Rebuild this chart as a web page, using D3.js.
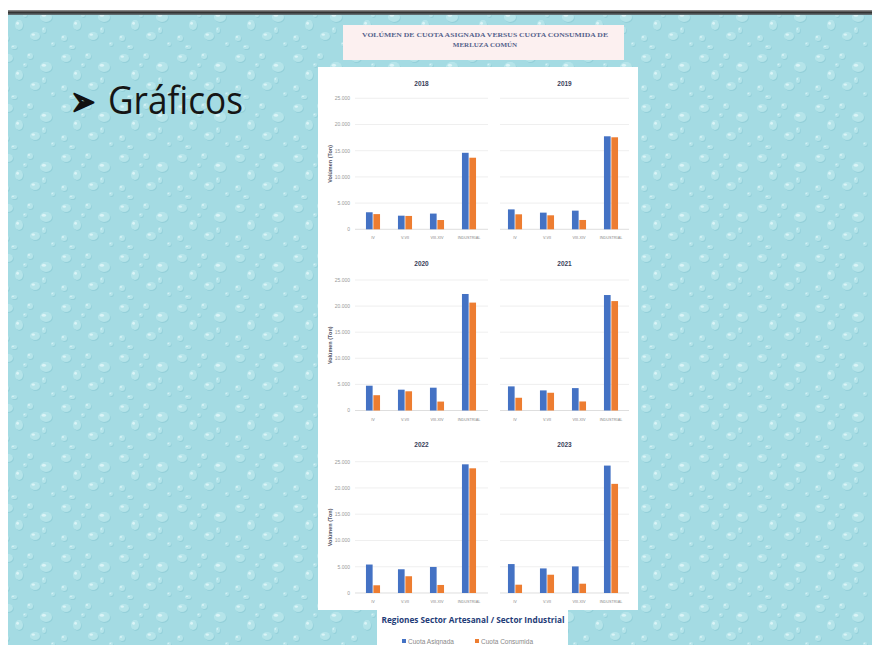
<!DOCTYPE html>
<html><head><meta charset="utf-8">
<script src="https://cdn.jsdelivr.net/npm/d3@7"></script>
<style>html,body{margin:0;padding:0;background:#fff;overflow:hidden}</style>
</head><body>
<svg id="c" width="872" height="645"></svg>
<script>
const years = ["2018","2019","2020","2021","2022","2023"];
const categories = ["IV","V-VII","VIII-XIV","INDUSTRIAL"];
const seriesNames = ["Cuota Asignada","Cuota Consumida"];
const asignada = [
  [3250, 2600, 3000, 14600],
  [3800, 3180, 3560, 17750],
  [4750, 3990, 4370, 22320],
  [4620, 3850, 4290, 22120],
  [5420, 4520, 4960, 24500],
  [5510, 4680, 5060, 24260]
];
const consumida = [
  [2900, 2550, 1770, 13660],
  [2860, 2670, 1780, 17560],
  [2930, 3680, 1710, 20670],
  [2440, 3400, 1730, 20960],
  [1470, 3190, 1530, 23740],
  [1580, 3480, 1770, 20780]
];
const yTicks = [0, 5000, 10000, 15000, 20000, 25000];
const yTickLabels = ["0","5.000","10.000","15.000","20.000","25.000"];
const colors = ["#4472C4","#ED7D31"];

const svg = d3.select("#c");
const defs = svg.append("defs");
const pat = defs.append("pattern").attr("id","drops").attr("patternUnits","userSpaceOnUse")
  .attr("width",58).attr("height",50);
pat.append("rect").attr("width",58).attr("height",50).attr("fill","#a4dbe3");
const dropSpecs = [[8,8,5,4],[30,6,3,3],[46,17,6,5],[19,25,4,5],[6,38,3,3],[35,36,5,4],[53,44,2,2],[25,15,2,2],[44,30,2,3],[14,47,3,2]];
dropSpecs.forEach(([x,y,rx,ry])=>{
  pat.append("ellipse").attr("cx",x+0.8).attr("cy",y+1).attr("rx",rx).attr("ry",ry).attr("fill","#86c6d1").attr("opacity",0.55);
  pat.append("ellipse").attr("cx",x).attr("cy",y).attr("rx",rx).attr("ry",ry).attr("fill","#bde8ee").attr("opacity",0.8);
  pat.append("ellipse").attr("cx",x-rx*0.35).attr("cy",y-ry*0.35).attr("rx",rx*0.35).attr("ry",ry*0.3).attr("fill","#e4f7fa").attr("opacity",0.8);
});
const grad = defs.append("linearGradient").attr("id","topbar").attr("x1",0).attr("y1",0).attr("x2",0).attr("y2",1);
grad.append("stop").attr("offset","0").attr("stop-color","#9a9a9a");
grad.append("stop").attr("offset","0.5").attr("stop-color","#333");
grad.append("stop").attr("offset","1").attr("stop-color","#6b7b80");

svg.append("rect").attr("x",8).attr("y",14).attr("width",864).attr("height",631).attr("fill","url(#drops)");
svg.append("rect").attr("x",8).attr("y",10).attr("width",864).attr("height",5).attr("fill","url(#topbar)");

// bullet + heading
svg.append("text").attr("x",71).attr("y",115).attr("font-family","DejaVu Sans").attr("font-weight","bold").attr("font-size",40)
  .attr("fill","#111").attr("stroke","#111").attr("stroke-width",2.2).attr("stroke-linejoin","round")
  .attr("textLength",24).attr("lengthAdjust","spacingAndGlyphs").text("➢");
svg.append("text").attr("x",108).attr("y",114).attr("font-family","'Open Sans', sans-serif")
  .attr("font-size",38).attr("fill","#151515").attr("textLength",135).attr("lengthAdjust","spacingAndGlyphs").text("Gráficos");

// title box
svg.append("rect").attr("x",343).attr("y",25).attr("width",281).attr("height",35).attr("fill","#fcf0f0");
const tt = svg.append("text").attr("font-family","'Liberation Serif', serif").attr("font-size",7).attr("font-weight","bold")
  .attr("fill","#56638c").attr("text-anchor","middle");
tt.append("tspan").attr("x",485).attr("y",37).attr("textLength",246).attr("lengthAdjust","spacingAndGlyphs")
  .text("VOLÚMEN DE CUOTA ASIGNADA VERSUS CUOTA CONSUMIDA DE");
tt.append("tspan").attr("x",485).attr("y",47).text("MERLUZA COMÚN");

// white panel
svg.append("rect").attr("x",318).attr("y",67).attr("width",320).attr("height",543).attr("fill","#fff");
svg.append("rect").attr("x",377).attr("y",609).attr("width",191).attr("height",36).attr("fill","#fff");

const cols = [{x0:355, x1:488, b0:357, b1:485},{x0:500, x1:629, b0:499, b1:627}];
const rows = [{top:98.3, zero:229.3, title:86},{top:280, zero:410.5, title:266},{top:461.7, zero:593, title:447}];

years.forEach((yr,i)=>{
  const c = cols[i%2], r = rows[Math.floor(i/2)];
  const g = svg.append("g");
  const y = d3.scaleLinear().domain([0,25000]).range([r.zero, r.top]);
  const x = d3.scaleBand().domain(categories).range([c.b0,c.b1]).paddingInner(0.56).paddingOuter(0.28);
  const xs = d3.scaleBand().domain(seriesNames).range([0,x.bandwidth()]).paddingInner(0.1);
  g.selectAll("line.grid").data(yTicks).join("line")
    .attr("x1",c.x0).attr("x2",c.x1).attr("y1",d=>y(d)).attr("y2",d=>y(d))
    .attr("stroke",d=>d===0?"#d0d0d0":"#e8e8e8").attr("stroke-width",0.7);
  if(i%2===0){
    g.selectAll("text.yt").data(yTicks).join("text")
      .attr("x",c.x0-5).attr("y",d=>y(d)+1.8).attr("text-anchor","end")
      .attr("font-family","Liberation Sans, sans-serif").attr("font-size",5).attr("fill","#999")
      .text((d,j)=>yTickLabels[j]);
    g.append("text").attr("transform",`translate(332,${(r.top+r.zero)/2}) rotate(-90)`)
      .attr("text-anchor","middle").attr("font-family","Liberation Sans, sans-serif").attr("font-weight","bold")
      .attr("font-size",5.5).attr("fill","#556").text("Volúmen (Ton)");
  }
  g.append("text").attr("x",(c.x0+c.x1)/2).attr("y",r.title).attr("text-anchor","middle")
    .attr("font-family","Liberation Sans, sans-serif").attr("font-weight","bold").attr("font-size",6.5)
    .attr("fill","#3a3f5a").text(yr);
  const data = categories.map((cat,k)=>({cat, vals:[asignada[i][k], consumida[i][k]]}));
  const grp = g.selectAll("g.cat").data(data).join("g").attr("transform",d=>`translate(${x(d.cat)},0)`);
  grp.selectAll("rect").data(d=>d.vals.map((v,s)=>({s:seriesNames[s], v, idx:s}))).join("rect")
    .attr("x",d=>xs(d.s)).attr("width",xs.bandwidth())
    .attr("y",d=>y(d.v)).attr("height",d=>y(0)-y(d.v)).attr("fill",d=>colors[d.idx]);
  g.selectAll("text.xl").data(categories).join("text")
    .attr("x",d=>x(d)+x.bandwidth()/2).attr("y",r.zero+10).attr("text-anchor","middle")
    .attr("font-family","Liberation Sans, sans-serif").attr("font-size",3.8).attr("fill","#888").text(d=>d);
});

svg.append("text").attr("x",473).attr("y",623).attr("text-anchor","middle")
  .attr("font-family","'Open Sans','Liberation Sans',sans-serif").attr("font-weight","bold").attr("font-size",9.5)
  .attr("fill","#1f3c78").attr("textLength",183).attr("lengthAdjust","spacingAndGlyphs")
  .text("Regiones Sector Artesanal / Sector Industrial");

const leg = svg.append("g");
const legX = [402, 475];
seriesNames.forEach((s,k)=>{
  leg.append("rect").attr("x",legX[k]).attr("y",639).attr("width",4).attr("height",4).attr("fill",colors[k]);
  leg.append("text").attr("x",legX[k]+6).attr("y",644).attr("font-family","Liberation Sans, sans-serif")
    .attr("font-size",6.5).attr("fill","#888").text(s);
});
</script>
</body></html>
